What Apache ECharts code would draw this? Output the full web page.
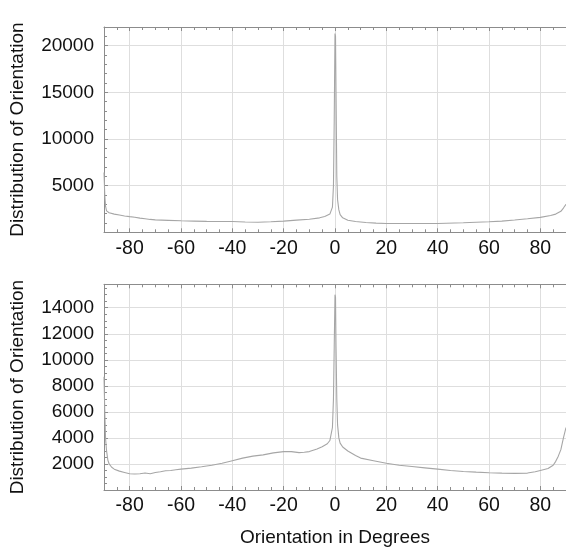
<!DOCTYPE html>
<html>
<head>
<meta charset="utf-8">
<script src="https://cdn.jsdelivr.net/npm/echarts@6/dist/echarts.min.js"></script>
<style>
html,body{margin:0;padding:0;background:#fff;}
#chart{width:566px;height:553px;}
</style>
</head>
<body>
<div id="chart"></div>
<script>
// Top panel data: orientation angle (deg) and distribution value
var topAngles = [-90,-89.7,-89.4,-89,-88,-86,-84,-82,-80,-78,-76,-74,-72,-70,-65,-60,-55,-50,-45,-40,-35,-30,-25,-20,-15,-10,-6,-4,-2,-1,-0.6,-0.3,0,0.2,0.4,0.7,1,1.5,2,3,5,8,12,16,20,30,40,50,60,65,70,75,80,84,86,88,89,90];
var topValues = [6400,4000,2800,2300,2100,1950,1850,1750,1680,1620,1520,1450,1380,1330,1280,1230,1200,1170,1160,1150,1100,1080,1130,1200,1300,1400,1550,1700,1950,2700,5000,12000,21300,21000,15000,6000,3500,2400,1900,1550,1300,1150,1050,980,950,940,950,1020,1130,1200,1320,1450,1600,1800,1950,2250,2600,3000];

// Bottom panel data
var botAngles = [-90,-89.7,-89.4,-89,-88.5,-88,-87,-86,-84,-82,-80,-78,-76,-74,-72,-70,-68,-66,-64,-62,-60,-56,-52,-48,-44,-40,-36,-32,-28,-24,-20,-17,-14,-12,-10,-7,-5,-3,-2,-1,-0.6,-0.3,0,0.2,0.4,0.7,1,1.5,2,3,5,8,10,15,20,25,30,35,40,45,50,55,60,65,70,75,78,80,83,85,86,87,88,89,90];
var botValues = [8700,6000,4000,3000,2300,2000,1750,1600,1450,1350,1250,1230,1250,1300,1250,1350,1400,1480,1500,1550,1600,1680,1780,1900,2050,2250,2450,2600,2700,2850,2950,2950,2870,2900,2950,3150,3330,3550,3800,4800,7000,11000,15000,14800,11000,7000,5000,4000,3600,3300,3000,2650,2450,2250,2050,1900,1800,1700,1600,1500,1420,1370,1330,1300,1280,1300,1400,1500,1650,1900,2200,2600,3100,4000,4800];

// Axis settings
var xMin = -90, xMax = 90;
var topYMax = 22000, topYInterval = 5000;
var botYMax = 15800, botYInterval = 2000;

function pairs(xs, ys){ return xs.map(function(x,i){ return [x, ys[i]]; }); }

var FONT = 'Liberation Sans, Arial, sans-serif';
var axisColor = '#8c8c8c';
var gridColor = '#dedede';

function xAxisBase(gridIndex, withName){
  var a = {
    type:'value', gridIndex:gridIndex, min:xMin, max:xMax, splitNumber:9,
    axisLine:{show:true, onZero:false, lineStyle:{color:axisColor, width:1}},
    axisTick:{show:true, inside:true, length:4, lineStyle:{color:axisColor}},
    minorTick:{show:true, splitNumber:4, length:3, lineStyle:{color:axisColor}},
    splitLine:{show:true, lineStyle:{color:gridColor, width:1}},
    axisLabel:{show:true, color:'#111', fontSize:19.5, fontFamily:FONT, margin:6,
      showMinLabel:false, showMaxLabel:false,
      formatter:function(v){ return (v===-90||v===90)?'':String(v); }}
  };
  if (withName){
    a.name = 'Orientation in Degrees';
    a.nameLocation = 'middle';
    a.nameGap = 38;
    a.nameTextStyle = {color:'#111', fontSize:19, fontFamily:FONT};
  }
  return a;
}
function xAxisTop(gridIndex){
  return {
    type:'value', gridIndex:gridIndex, position:'top', min:xMin, max:xMax, splitNumber:9,
    axisLine:{show:true, onZero:false, lineStyle:{color:axisColor, width:1}},
    axisTick:{show:true, inside:true, length:4, lineStyle:{color:axisColor}},
    minorTick:{show:true, splitNumber:4, length:3, lineStyle:{color:axisColor}},
    splitLine:{show:false}, axisLabel:{show:false}
  };
}
function yAxisBase(gridIndex, max, interval, minorSplit){
  return {
    type:'value', gridIndex:gridIndex, min:0, max:max, interval:interval,
    name:'Distribution of Orientation', nameLocation:'middle', nameGap:77,
    nameTextStyle:{color:'#111', fontSize:19, fontFamily:FONT},
    axisLine:{show:true, onZero:false, lineStyle:{color:axisColor, width:1}},
    axisTick:{show:true, inside:true, length:4, lineStyle:{color:axisColor}},
    minorTick:{show:true, splitNumber:minorSplit, length:3, lineStyle:{color:axisColor}},
    splitLine:{show:true, lineStyle:{color:gridColor, width:1}},
    axisLabel:{show:true, color:'#111', fontSize:19, fontFamily:FONT, margin:10,
      showMinLabel:false, showMaxLabel:false,
      formatter:function(v){ return (v===0||v===max)?'':String(v); }}
  };
}

var chart = echarts.init(document.getElementById('chart'), null, {renderer:'canvas'});
chart.setOption({
  animation:false,
  backgroundColor:'#ffffff',
  grid:[
    {left:102.5, top:27, width:465.5, height:205.3, containLabel:false},
    {left:102.5, top:284.3, width:465.5, height:205.7, containLabel:false}
  ],
  xAxis:[xAxisBase(0,false), xAxisBase(1,true), xAxisTop(0), xAxisTop(1)],
  yAxis:[yAxisBase(0, topYMax, topYInterval, 5), yAxisBase(1, botYMax, botYInterval, 4)],
  series:[
    {type:'line', xAxisIndex:0, yAxisIndex:0, data:pairs(topAngles, topValues),
     showSymbol:false, symbol:'none', lineStyle:{color:'#a6a6a6', width:1.1}},
    {type:'line', xAxisIndex:1, yAxisIndex:1, data:pairs(botAngles, botValues),
     showSymbol:false, symbol:'none', lineStyle:{color:'#a6a6a6', width:1.1}}
  ]
});
</script>
</body>
</html>
